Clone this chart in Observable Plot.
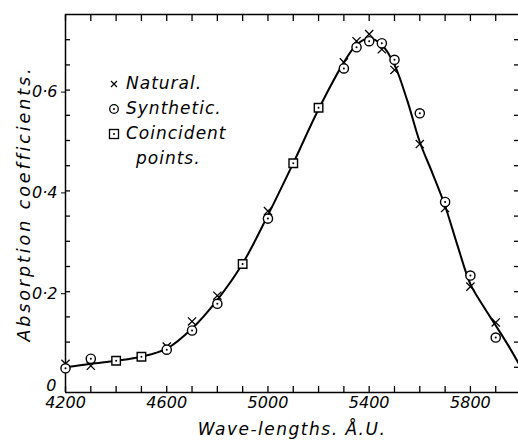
<!DOCTYPE html>
<html>
<head>
<meta charset="utf-8">
<script src="https://cdn.jsdelivr.net/npm/d3@7"></script>
<script src="https://cdn.jsdelivr.net/npm/@observablehq/plot@0.6"></script>
<style>
  html, body { margin: 0; padding: 0; background: #fff; }
  #wrap { position: relative; width: 518px; height: 441px; overflow: hidden; font-family: "DejaVu Sans", sans-serif; font-style: italic; }
  #legend { position: absolute; left: 108px; top: 71px; font-size: 17px; line-height: 25px; color: #000; letter-spacing: 1px; }
  #legend .row { display: flex; align-items: center; height: 25px; }
  #legend svg { margin-right: 6px; }
</style>
</head>
<body>
<div id="wrap">
  <div id="chart"></div>
  <div id="legend"></div>
</div>
<script>
// ---- data ----
const naturalWave = [4200, 4300, 4600, 4700, 4800, 5000, 5300, 5350, 5400, 5450, 5500, 5600, 5700, 5800, 5900];
const naturalAbs  = [0.057, 0.053, 0.091, 0.141, 0.192, 0.360, 0.655, 0.697, 0.711, 0.681, 0.640, 0.493, 0.366, 0.210, 0.139];

const syntheticWave = [4200, 4300, 4600, 4700, 4800, 5000, 5300, 5350, 5400, 5450, 5500, 5600, 5700, 5800, 5900];
const syntheticAbs  = [0.048, 0.067, 0.085, 0.123, 0.176, 0.345, 0.643, 0.685, 0.697, 0.693, 0.660, 0.554, 0.378, 0.232, 0.109];

const coincidentWave = [4400, 4500, 4900, 5100, 5200];
const coincidentAbs  = [0.063, 0.071, 0.255, 0.455, 0.565];

const curveWave = [4200, 4300, 4400, 4500, 4600, 4700, 4800, 4900, 5000, 5100, 5200, 5300, 5350, 5400, 5450, 5500, 5550, 5600, 5650, 5700, 5750, 5800, 5850, 5900, 5950, 5990];
const curveAbs  = [0.050, 0.057, 0.063, 0.071, 0.087, 0.127, 0.184, 0.256, 0.352, 0.455, 0.562, 0.655, 0.690, 0.703, 0.690, 0.650, 0.580, 0.497, 0.435, 0.370, 0.290, 0.215, 0.172, 0.133, 0.093, 0.058];

const xMinorTicks = [4200, 4300, 4400, 4500, 4600, 4700, 4800, 4900, 5000, 5100, 5200, 5300, 5400, 5500, 5600, 5700, 5800, 5900];
const xLabelTicks = [4200, 4600, 5000, 5400, 5800];
const yMinorTicks = [0.05, 0.10, 0.15, 0.20, 0.25, 0.30, 0.35, 0.40, 0.45, 0.50, 0.55, 0.60, 0.65, 0.70];
const yLabelTicks = [0.2, 0.4, 0.6];
const yLabelText  = ["0·2", "0·4", "0·6"];
const yZeroTick = [0];
const yZeroText = "0";

const xTitle = "Wave-lengths. Å.U.";
const yTitle = "Absorption coefficients.";
const legendLabels = ["Natural.", "Synthetic.", "Coincident"];
const legendExtra = "points.";

// ---- build tables ----
const zip = (xs, ys) => xs.map((x, i) => ({x, y: ys[i]}));
const natural = zip(naturalWave, naturalAbs);
const synthetic = zip(syntheticWave, syntheticAbs);
const coincident = zip(coincidentWave, coincidentAbs);
const curve = zip(curveWave, curveAbs);

const chart = Plot.plot({
  width: 518,
  height: 441,
  marginLeft: 65,
  marginRight: 0,
  marginTop: 14,
  marginBottom: 49,
  x: {domain: [4200, 5990]},
  y: {domain: [0, 0.75]},
  style: {fontFamily: "DejaVu Sans, sans-serif", fontStyle: "italic", fontSize: "16px", color: "#000", background: "#fff", overflow: "visible"},
  marks: [
    // frame lines
    Plot.ruleX([4200], {stroke: "#000", strokeWidth: 1.5}),
    Plot.ruleY([0], {stroke: "#000", strokeWidth: 1.5}),
    Plot.ruleY([0.75], {stroke: "#000", strokeWidth: 1.5}),
    // inward ticks
    Plot.axisX({anchor: "bottom", ticks: xMinorTicks, tickSize: -6, tickFormat: () => "", label: null, strokeWidth: 1.3}),
    Plot.axisX({anchor: "top", ticks: xMinorTicks, tickSize: -6, tickFormat: () => "", label: null, strokeWidth: 1.3}),
    Plot.axisY({anchor: "left", ticks: yMinorTicks, tickSize: -5, tickFormat: () => "", label: null, strokeWidth: 1.3}),
    Plot.axisY({anchor: "right", ticks: yMinorTicks, tickSize: -5, tickFormat: () => "", label: null, strokeWidth: 1.3}),
    // labelled axes
    Plot.axisX({anchor: "bottom", ticks: xLabelTicks, tickSize: 0, tickPadding: 4, tickFormat: d => String(d),
      label: xTitle, labelArrow: "none", labelAnchor: "center", labelOffset: 42, fontSize: 16}),
    Plot.axisY({anchor: "left", ticks: yLabelTicks, tickSize: 4, tickPadding: 4, dy: 2,
      tickFormat: d => yLabelText[yLabelTicks.indexOf(d)],
      label: yTitle, labelArrow: "none", labelAnchor: "center", labelOffset: 48, fontSize: 16}),
    Plot.axisY({anchor: "left", ticks: yZeroTick, tickSize: 0, tickPadding: 9, dy: -7,
      tickFormat: () => yZeroText, label: null, fontSize: 16}),
    // fitted curve
    Plot.line(curve, {x: "x", y: "y", curve: "catmull-rom", stroke: "#000", strokeWidth: 2}),
    // natural: crosses
    Plot.dot(natural, {x: "x", y: "y", symbol: "times", r: 3.8, stroke: "#000", strokeWidth: 1.3}),
    // synthetic: dotted circles
    Plot.dot(synthetic, {x: "x", y: "y", symbol: "circle", r: 4.6, stroke: "#000", fill: "#fff", strokeWidth: 1.4}),
    Plot.dot(synthetic, {x: "x", y: "y", r: 1, fill: "#000", stroke: null}),
    // coincident: dotted squares
    Plot.dot(coincident, {x: "x", y: "y", symbol: "square", r: 4.8, stroke: "#000", fill: "#fff", strokeWidth: 1.4}),
    Plot.dot(coincident, {x: "x", y: "y", r: 1, fill: "#000", stroke: null})
  ]
});
document.getElementById("chart").appendChild(chart);

// title styling (letter spacing, size)
chart.querySelectorAll("text").forEach(t => {
  const s = t.textContent.trim();
  if (s === xTitle) {
    t.setAttribute("font-size", "17");
    t.setAttribute("letter-spacing", "1.5");
  } else if (s === yTitle) {
    t.setAttribute("font-size", "17.5");
    t.setAttribute("letter-spacing", "2.9");
  }
});

// legend (HTML overlay inside the plot area)
const symbols = [
  '<svg width="12" height="12"><path d="M3,3L9,9M9,3L3,9" stroke="#000" stroke-width="1.2"/></svg>',
  '<svg width="12" height="12"><circle cx="6" cy="6" r="4.3" fill="#fff" stroke="#000" stroke-width="1.3"/><circle cx="6" cy="6" r="1" fill="#000"/></svg>',
  '<svg width="12" height="12"><rect x="1.5" y="1.5" width="9" height="9" fill="#fff" stroke="#000" stroke-width="1.3"/><circle cx="6" cy="6" r="1" fill="#000"/></svg>'
];
const legend = document.getElementById("legend");
legendLabels.forEach((lab, i) => {
  const row = document.createElement("div");
  row.className = "row";
  row.innerHTML = symbols[i] + "<span>" + lab + "</span>";
  legend.appendChild(row);
});
const extra = document.createElement("div");
extra.className = "row";
extra.style.paddingLeft = "28px";
extra.textContent = legendExtra;
legend.appendChild(extra);
</script>
</body>
</html>
